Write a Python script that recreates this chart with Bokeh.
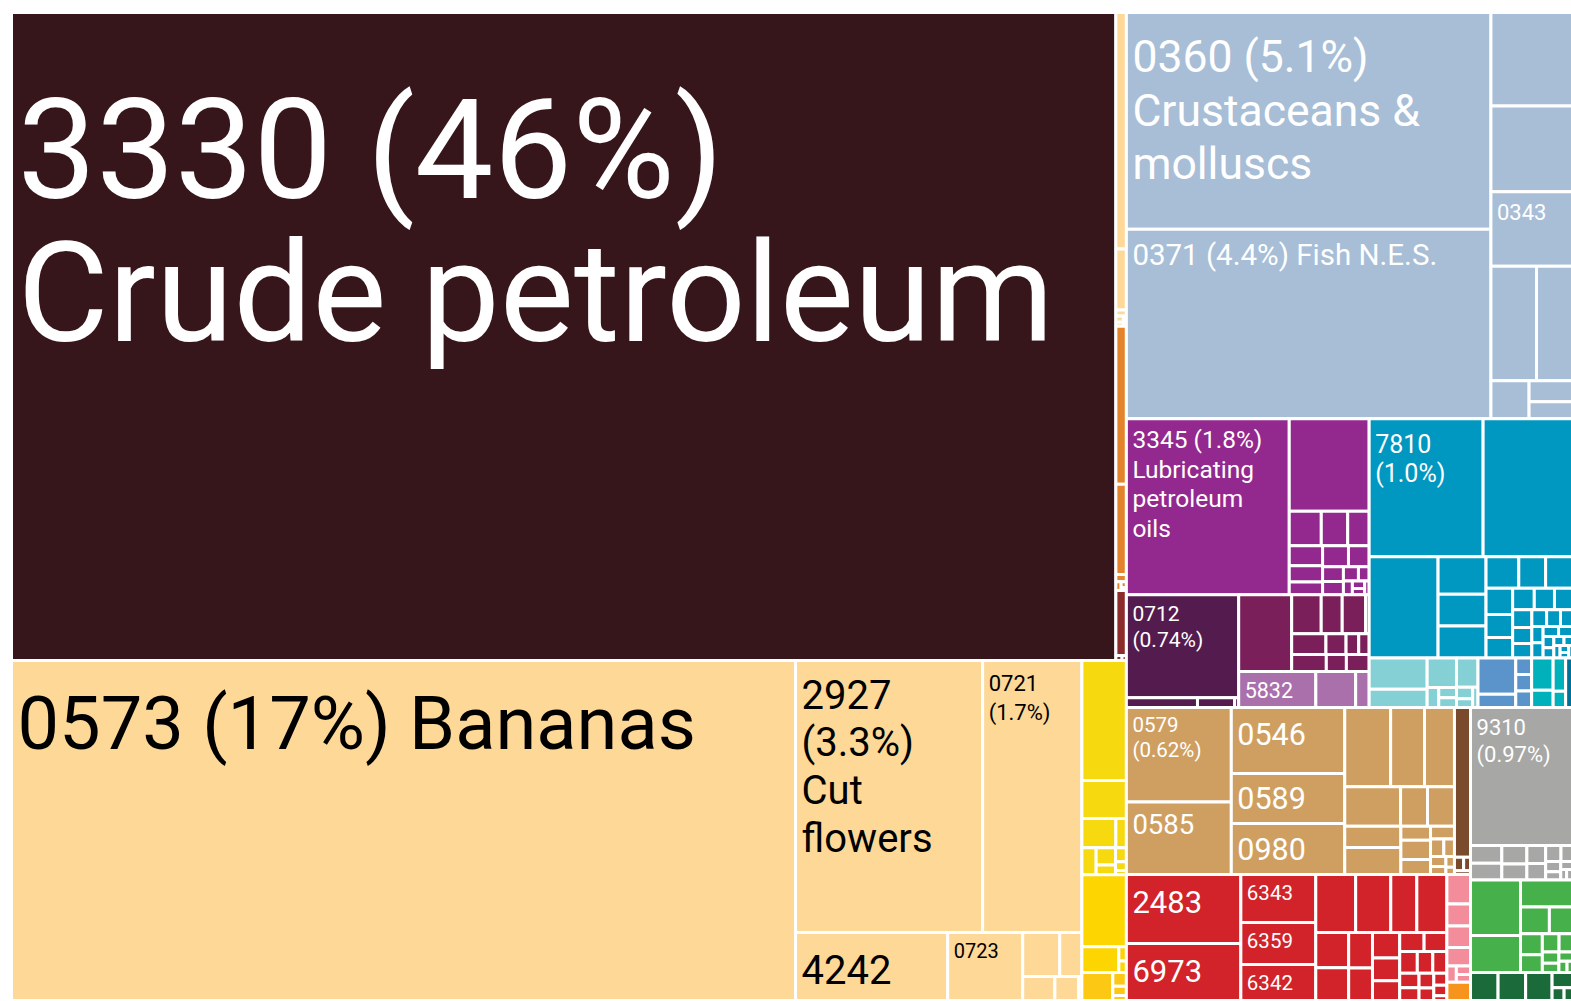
from bokeh.plotting import figure
from bokeh.models import ColumnDataSource, Range1d
from bokeh.core.properties import value
from bokeh.embed import file_html
from bokeh.resources import INLINE

# ---------------- data: export shares (% of total) -------------
codes = ["3330", "0573", "2927", "0721", "4242", "0723", "0360", "0371", "0343",
         "3345", "0712", "5832", "7810", "0579", "0585", "0546", "0589", "0980",
         "9310", "2483", "6973", "6343", "6359", "6342"]
shares = [46.4, 17.28, 3.30, 1.75, 0.67, 0.33, 5.12, 4.48, 0.394,
          1.86, 0.75, 0.18, 1.02, 0.643, 0.494, 0.486, 0.368, 0.375,
          0.913, 0.512, 0.423, 0.233, 0.204, 0.175]
label_lines = {
    "3330": ["3330 (46%)", "Crude petroleum"],
    "0573": ["0573 (17%) Bananas"],
    "2927": ["2927", "(3.3%)", "Cut", "flowers"],
    "0721": ["0721", "(1.7%)"],
    "4242": ["4242"],
    "0723": ["0723"],
    "0360": ["0360 (5.1%)", "Crustaceans &", "molluscs"],
    "0371": ["0371 (4.4%) Fish N.E.S."],
    "0343": ["0343"],
    "3345": ["3345 (1.8%)", "Lubricating", "petroleum", "oils"],
    "0712": ["0712", "(0.74%)"],
    "5832": ["5832"],
    "7810": ["7810", "(1.0%)"],
    "0579": ["0579", "(0.62%)"],
    "0585": ["0585"],
    "0546": ["0546"],
    "0589": ["0589"],
    "0980": ["0980"],
    "9310": ["9310", "(0.97%)"],
    "2483": ["2483"],
    "6973": ["6973"],
    "6343": ["6343"],
    "6359": ["6359"],
    "6342": ["6342"],
}

# unlabelled products (shares in %)
strip_peach = [0.161, 0.0415]
strip_peach_small = [0.004, 0.003, 0.002, 0.002]
strip_orange = [0.1076, 0.0613]
strip_orange_small = [0.005, 0.003, 0.002, 0.001]
strip_rust = [0.0442]
strip_rust_small = [0.002, 0.0014]
peach_small_a = [0.1056, 0.0628]
peach_small_b = [0.05, 0.037, 0.005]
yellow_big = [0.346, 0.110]
yellow_row1 = [0.064, 0.0198]
yellow_small = [0.025, 0.022, 0.012, 0.01, 0.006, 0.003]
yellow_mid = [0.208]
yellow_row2 = [0.062]
yellow_row2_small = [0.007, 0.0056]
gold_vals = [0.056]
gold_small = [0.012, 0.008, 0.0045]
fish_col = [0.494, 0.454]
fish_row1 = [0.338, 0.267]
fish_row2 = [0.094]
fish_row2_pair = [0.059, 0.048]
purple_big = [0.48]
purple_row = [0.0716, 0.059, 0.048]
purple_col = [0.043, 0.035, 0.028]
purple_small = [0.035, 0.028, 0.02, 0.018, 0.014, 0.01, 0.008, 0.006, 0.005, 0.004]
plum_row = [0.044, 0.023, 0.0025]
wine_big = [0.263]
wine_r1 = [0.0746, 0.053, 0.059, 0.009]
wine_r2 = [0.046, 0.027, 0.017, 0.014]
wine_r3 = [0.038, 0.022, 0.025]
lilac_vals = [0.093, 0.0315]
teal_right = [0.80]
teal_big = [0.452]
teal_col = [0.117, 0.098, 0.0996]
teal_small = [0.067, 0.055, 0.055, 0.045, 0.04, 0.035, 0.03, 0.028, 0.025, 0.022, 0.02,
              0.018, 0.016, 0.015, 0.013, 0.012, 0.011, 0.01, 0.009, 0.008, 0.007, 0.006,
              0.005, 0.005, 0.004, 0.003, 0.003]
cyan_a = [0.118, 0.068]
cyan_b = [0.056]
cyan_b_small = [0.015, 0.012, 0.011]
cyan_c = [0.041]
cyan_c_small = [0.012, 0.009, 0.007]
blue_a = [0.089, 0.032]
blue_b = [0.017, 0.017, 0.017]
aqua_a = [0.045, 0.024]
aqua_b = [0.027, 0.013]
deep_vals = [0.022]
tan_r1 = [0.236, 0.174, 0.154]
tan_r2 = [0.143, 0.069, 0.069]
tan_c1 = [0.078, 0.098]
tan_c2 = [0.027, 0.037, 0.029]
tan_small = [0.02, 0.015, 0.012, 0.01, 0.008, 0.006, 0.004]
brown_vals = [0.156]
brown_small = [0.008, 0.006, 0.004]
red_r1 = [0.150, 0.132, 0.098, 0.113]
red_small = [0.075, 0.07, 0.055, 0.05, 0.045, 0.04, 0.035, 0.03, 0.028, 0.025, 0.022,
             0.02, 0.018, 0.016, 0.014, 0.012, 0.01, 0.009, 0.004]
pink_vals = [0.045, 0.034, 0.033, 0.028]
pink_small = [0.01, 0.008, 0.007]
amber_vals = [0.028]
grey_small = [0.036, 0.034, 0.03, 0.026, 0.022, 0.02, 0.016, 0.012, 0.01, 0.008, 0.006, 0.004, 0.004]
green_small = [0.18, 0.12, 0.091, 0.05, 0.04, 0.03, 0.025, 0.02, 0.016, 0.012, 0.01, 0.008, 0.006, 0.004]
dkgreen_small = [0.05, 0.05, 0.048, 0.02, 0.01, 0.007]

# ---------------- styles -------------
COL = dict(crude="#36151b", peach="#fdd897", orange="#e3832b", rust="#8c2b2b",
           yellow="#f6d90f", yellow2="#fdd500", gold="#fcc813", fish="#a7bed6",
           purple="#93288e", plum="#541b4f", wine="#7a1f59", lilac="#a970ac",
           teal="#0097c1", cyan="#85d0d5", blue="#5b94cb", aqua="#00b1bb", deep="#00729a",
           tan="#cf9f61", brown="#7a4a2c", grey="#a7a7a5", red="#d2232a", pink="#f38d9b",
           amber="#f7941d", green="#46b14b", dkgreen="#1b6b3a")
FONT = "Roboto"
BASE_SHIFT = 0.36   # renderer places the alphabetic baseline ~0.36 em low
share = dict(zip(codes, shares))
# code: (font px, colour, first baseline below cell top px, line pitch px)
label_style = {
    "3330": (140, "white", 188, 143), "0573": (74, "black", 90, 0),
    "2927": (40, "black", 48, 48), "0721": (22, "black", 30, 30),
    "4242": (40, "black", 51, 0), "0723": (20, "black", 25, 0),
    "0360": (44.5, "white", 61, 53.5), "0371": (29.5, "white", 36.5, 0),
    "0343": (22, "white", 28.5, 0), "3345": (24.5, "white", 29.5, 29.7),
    "0712": (21, "white", 26.5, 26), "5832": (21.5, "white", 26, 0),
    "7810": (25, "white", 33.5, 30), "0579": (20.5, "white", 25, 25),
    "0585": (27.5, "white", 32.5, 0), "0546": (30.5, "white", 38, 0),
    "0589": (30.5, "white", 36, 0), "0980": (30.5, "white", 36, 0),
    "9310": (22, "white", 28, 27), "2483": (31, "white", 39, 0),
    "6973": (31, "white", 39, 0), "6343": (20.5, "white", 25, 0),
    "6359": (20.5, "white", 25, 0), "6342": (20.5, "white", 25, 0),
}


# ---------------- treemap structure & layout -------------
def leaf(v, c, code=None):
    return {"v": v, "c": COL[c], "code": code}


def P(code, c):
    return leaf(share[code], c, code)


def many(vals, c):
    return [leaf(v, c) for v in vals]


def _flat(items):
    out = []
    for it in items:
        if isinstance(it, list):
            out.extend(it)
        else:
            out.append(it)
    return out


def X(*k):
    return {"d": "x", "k": _flat(k)}


def Y(*k):
    return {"d": "y", "k": _flat(k)}


def S(*k):
    return {"d": "s", "k": _flat(k)}


def total(n):
    return n["v"] if "v" in n else sum(total(k) for k in n["k"])


rects = []


def lay(n, x0, y0, x1, y1):
    if "v" in n:
        rects.append((x0, y0, x1, y1, n["c"], n["code"]))
        return
    t = total(n)
    if n["d"] == "x":
        x = x0
        for k in n["k"]:
            w = (x1 - x0) * total(k) / t
            lay(k, x, y0, x + w, y1)
            x += w
    elif n["d"] == "y":
        y = y0
        for k in n["k"]:
            h = (y1 - y0) * total(k) / t
            lay(k, x0, y, x1, y + h)
            y += h
    else:
        squarify(n["k"], x0, y0, x1, y1, t)


def squarify(kids, x0, y0, x1, y1, t):
    scale = (x1 - x0) * (y1 - y0) / t
    items = [(total(k) * scale, k) for k in kids]
    x, y, w, h = x0, y0, x1 - x0, y1 - y0

    def worst(row, side):
        s = sum(a for a, _ in row)
        return max(max(side * side * a / (s * s), s * s / (side * side * a)) for a, _ in row)

    while items:
        side = max(min(w, h), 1e-9)
        row = [items.pop(0)]
        while items and worst(row + [items[0]], side) <= worst(row, side):
            row.append(items.pop(0))
        s = sum(a for a, _ in row)
        if w >= h:
            cw = s / max(h, 1e-9)
            yy = y
            for a, k in row:
                hh = a / cw
                lay(k, x, yy, x + cw, yy + hh)
                yy += hh
            x += cw
            w -= cw
        else:
            rh = s / max(w, 1e-9)
            xx = x
            for a, k in row:
                ww = a / rh
                lay(k, xx, y, xx + ww, y + rh)
                xx += ww
            y += rh
            h -= rh


left_block = Y(
    X(P("3330", "crude"),
      Y(many(strip_peach, "peach"), S(many(strip_peach_small, "peach")),
        many(strip_orange, "orange"), S(many(strip_orange_small, "orange")),
        many(strip_rust, "rust"), S(many(strip_rust_small, "rust")))),
    X(P("0573", "peach"),
      Y(X(P("2927", "peach"), P("0721", "peach")),
        X(P("4242", "peach"), P("0723", "peach"),
          Y(X(many(peach_small_a, "peach")), X(many(peach_small_b, "peach"))))),
      Y(many(yellow_big, "yellow"), X(many(yellow_row1, "yellow")),
        S(many(yellow_small, "yellow")), many(yellow_mid, "yellow2"),
        X(many(yellow_row2, "yellow2"), S(many(yellow_row2_small, "yellow2"))),
        X(many(gold_vals, "gold"), S(many(gold_small, "gold"))))))

fish = X(Y(P("0360", "fish"), P("0371", "fish")),
         Y(many(fish_col, "fish"), P("0343", "fish"), X(many(fish_row1, "fish")),
           X(many(fish_row2, "fish"), Y(many(fish_row2_pair, "fish")))))

purple = Y(
    X(P("3345", "purple"),
      Y(many(purple_big, "purple"), X(many(purple_row, "purple")),
        X(Y(many(purple_col, "purple")), S(many(purple_small, "purple"))))),
    X(Y(P("0712", "plum"), X(many(plum_row, "plum"))),
      Y(X(many(wine_big, "wine"),
          Y(X(many(wine_r1, "wine")), X(many(wine_r2, "wine")), X(many(wine_r3, "wine")))),
        X(P("5832", "lilac"), many(lilac_vals, "lilac")))))

teal = Y(
    X(P("7810", "teal"), many(teal_right, "teal")),
    X(many(teal_big, "teal"), Y(many(teal_col, "teal")), S(many(teal_small, "teal"))),
    X(Y(many(cyan_a, "cyan")), Y(many(cyan_b, "cyan"), S(many(cyan_b_small, "cyan"))),
      Y(many(cyan_c, "cyan"), S(many(cyan_c_small, "cyan"))), Y(many(blue_a, "blue")),
      Y(many(blue_b, "blue")), Y(many(aqua_a, "aqua")), Y(many(aqua_b, "aqua")),
      many(deep_vals, "deep")))

bottom = X(
    Y(X(Y(P("0579", "tan"), P("0585", "tan")),
        Y(P("0546", "tan"), P("0589", "tan"), P("0980", "tan")),
        Y(X(many(tan_r1, "tan")), X(many(tan_r2, "tan")),
          X(Y(many(tan_c1, "tan")), Y(many(tan_c2, "tan")), S(many(tan_small, "tan")))),
        Y(many(brown_vals, "brown"), S(many(brown_small, "brown")))),
      X(Y(P("2483", "red"), P("6973", "red")),
        Y(P("6343", "red"), P("6359", "red"), P("6342", "red")),
        Y(X(many(red_r1, "red")), S(many(red_small, "red"))),
        Y(many(pink_vals, "pink"), S(many(pink_small, "pink")), many(amber_vals, "amber")))),
    Y(P("9310", "grey"), S(many(grey_small, "grey")), S(many(green_small, "green")),
      S(many(dkgreen_small, "dkgreen"))))

root = X(left_block, Y(fish, Y(X(purple, teal)), bottom))

# treemap area on the page (px)
lay(root, 11, 12, 1572, 1000)

# ---------------- drawing -------------
p = figure(width=1571, height=1001, output_backend="svg", toolbar_location=None,
           x_range=Range1d(0, 1571), y_range=Range1d(1001, 0), min_border=0)
p.axis.visible = False
p.grid.visible = False
p.outline_line_color = None
p.background_fill_color = "white"
p.border_fill_color = "white"

src = ColumnDataSource(dict(
    left=[r[0] for r in rects], right=[r[2] for r in rects],
    top=[r[1] for r in rects], bottom=[r[3] for r in rects],
    color=[r[4] for r in rects]))
p.quad(left="left", right="right", top="top", bottom="bottom", source=src,
       fill_color="color", line_color="white", line_width=3)

tx, ty, tt, ts, tc = [], [], [], [], []
for r in rects:
    code = r[5]
    if code is None or code not in label_lines:
        continue
    fs, colr, first, pitch = label_style[code]
    for i, line in enumerate(label_lines[code]):
        tx.append(r[0] + 6)
        ty.append(r[1] + first + i * pitch - BASE_SHIFT * fs)
        tt.append(line)
        ts.append("%gpx" % fs)
        tc.append(colr)

tsrc = ColumnDataSource(dict(x=tx, y=ty, text=tt, size=ts, color=tc))
p.text(x="x", y="y", text="text", source=tsrc, text_font=value(FONT),
       text_font_size="size", text_color="color", text_baseline="alphabetic",
       text_align="left")

open("out.html", "w").write(file_html(p, INLINE))
